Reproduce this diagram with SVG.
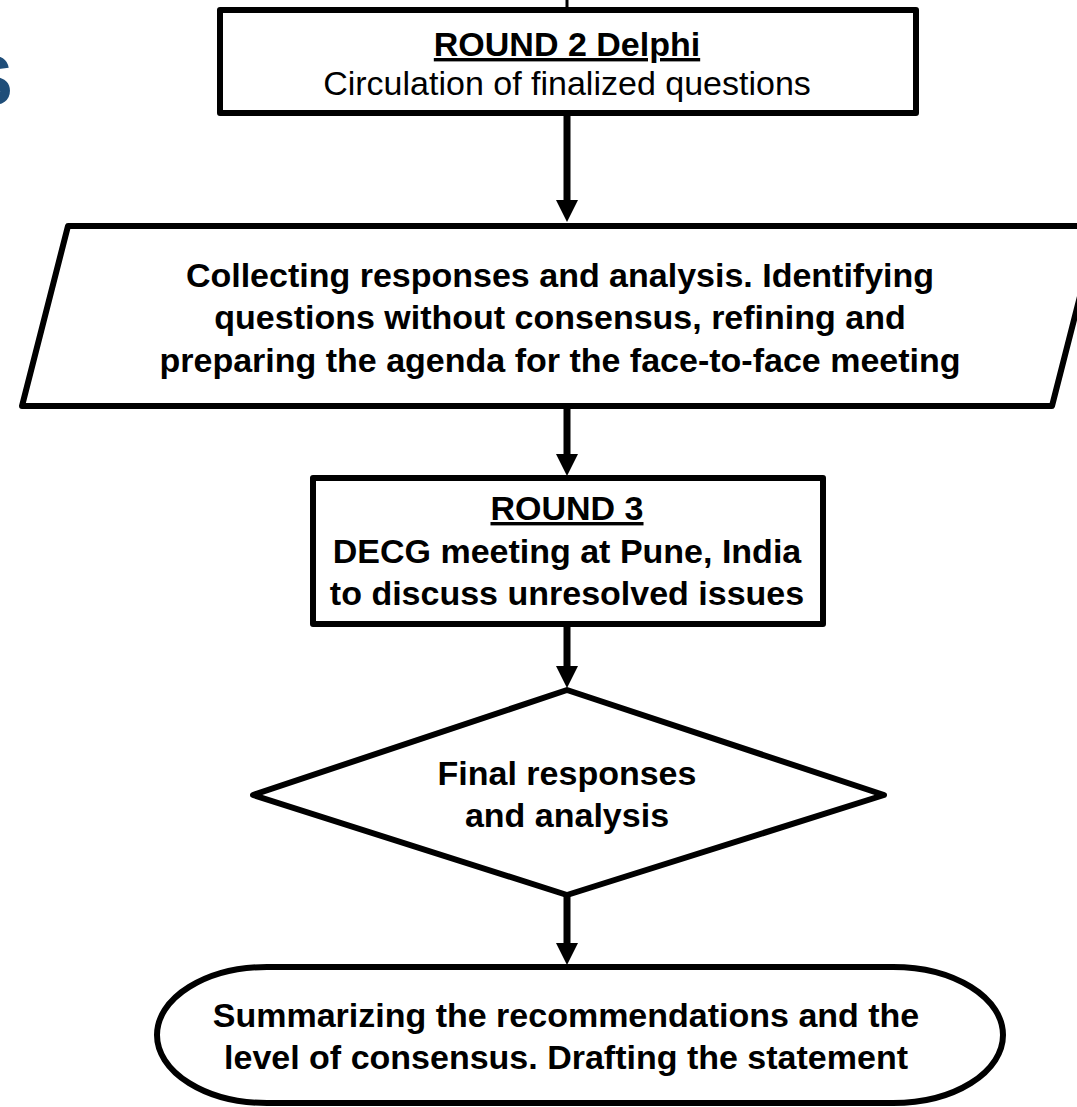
<svg xmlns="http://www.w3.org/2000/svg" width="1077" height="1107" viewBox="0 0 1077 1107">
  <defs>
    <style>
      .shape { fill: #ffffff; stroke: #000000; stroke-width: 6; stroke-linejoin: round; }
      .conn { stroke: #000000; stroke-width: 7; fill: none; }
      .t { font-family: "Liberation Sans", Arial, sans-serif; font-size: 34px; fill: #000000; text-anchor: middle; }
      .b { font-weight: bold; }
      .u { text-decoration: underline; }
    </style>
    <marker id="arrow" markerUnits="userSpaceOnUse" markerWidth="22" markerHeight="22" refX="0" refY="11" orient="auto">
      <path d="M0,0 L22,11 L0,22 z" fill="#000000"/>
    </marker>
  </defs>
  <rect width="1077" height="1107" fill="#ffffff"/>

  <text x="-34" y="105" font-family="Liberation Sans, Arial, sans-serif" font-size="70" font-weight="bold" fill="#1F4E79">S</text>

  <g id="connectors">
    <line class="conn" x1="567" y1="0" x2="567" y2="10" style="stroke-width:3"/>
    <line class="conn" x1="567" y1="113" x2="567" y2="200" marker-end="url(#arrow)"/>
    <line class="conn" x1="567" y1="406" x2="567" y2="454" marker-end="url(#arrow)"/>
    <line class="conn" x1="567" y1="624" x2="567" y2="666" marker-end="url(#arrow)"/>
    <line class="conn" x1="567" y1="895" x2="567" y2="943" marker-end="url(#arrow)"/>
  </g>

  <g id="node-round2">
    <rect class="shape" x="220" y="10" width="696" height="103"/>
    <text class="t b u" x="567" y="56">ROUND 2 Delphi</text>
    <text class="t" x="567" y="95">Circulation of finalized questions</text>
  </g>

  <g id="node-collecting">
    <polygon class="shape" points="68,226 1098,226 1052,406 22,406"/>
    <text class="t b" x="560" y="287">Collecting responses and analysis. Identifying</text>
    <text class="t b" x="560" y="329">questions without consensus, refining and</text>
    <text class="t b" x="560" y="372">preparing the agenda for the face-to-face meeting</text>
  </g>

  <g id="node-round3">
    <rect class="shape" x="313" y="478" width="510" height="146"/>
    <text class="t b u" x="567" y="520">ROUND 3</text>
    <text class="t b" x="567" y="563">DECG meeting at Pune, India</text>
    <text class="t b" x="567" y="605">to discuss unresolved issues</text>
  </g>

  <g id="node-final">
    <polygon class="shape" points="567,690 884,795 567,895 253,795"/>
    <text class="t b" x="567" y="785">Final responses</text>
    <text class="t b" x="567" y="827">and analysis</text>
  </g>

  <g id="node-summary">
    <rect class="shape" x="157" y="967" width="846" height="136" rx="110" ry="68"/>
    <text class="t b" x="566" y="1027">Summarizing the recommendations and the</text>
    <text class="t b" x="566" y="1069">level of consensus. Drafting the statement</text>
  </g>
</svg>
